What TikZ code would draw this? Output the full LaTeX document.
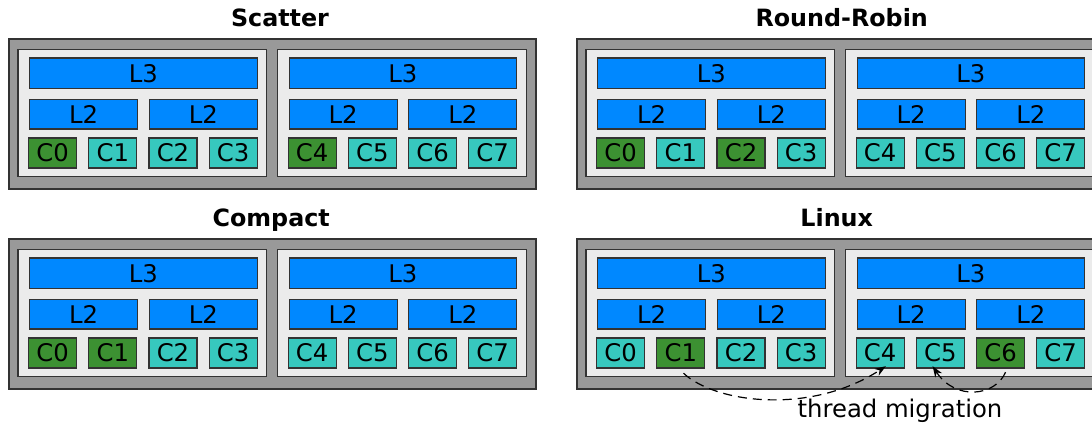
\documentclass[tikz,border=0pt]{standalone}
\usepackage{fontspec}
\setmainfont{DejaVu Sans}
\usetikzlibrary{calc,arrows.meta}
\definecolor{outerg}{RGB}{153,153,153}
\definecolor{innerg}{RGB}{235,235,235}
\definecolor{cblue}{RGB}{0,136,255}
\definecolor{cteal}{RGB}{55,200,190}
\definecolor{cgreen}{RGB}{60,145,50}
\definecolor{edge}{RGB}{51,51,51}
\tikzset{
 box/.style={draw=edge, line width=1.2pt, inner sep=0pt, anchor=north west, font=\fontsize{24.3}{28}\selectfont},
 outerbox/.style={box, fill=outerg, line width=1.6pt},
 socket/.style={box, fill=innerg},
 cache/.style={box, fill=cblue},
 corebox/.style={box, minimum width=48pt, minimum height=30pt},
 title/.style={font=\bfseries\fontsize{23.8}{28}\selectfont, anchor=base, inner sep=0pt},
 lbl/.style={font=\fontsize{24.3}{28}\selectfont, anchor=base, inner sep=0pt},
 mig/.style={dash pattern=on 9pt off 6pt, line width=1.2pt, -{Stealth[length=11pt,width=8pt]}},
}
\newcommand\cpupanel[4]{%
 \begin{scope}[shift={(#1,#2)}]
  \node[outerbox, minimum width=527pt, minimum height=150pt] (#3-out) at (8,38) {};
  \foreach \s/\sx in {0/0,1/259.5} {
    \node[socket, minimum width=248.7pt, minimum height=127pt] (#3-S\s) at (17.3+\sx,48.7) {};
    \node[cache, minimum width=227.7pt, minimum height=30.7pt] (#3-L3-\s) at (29+\sx,57.3) {L3};
    \node[cache, minimum width=108pt, minimum height=29.6pt] (#3-L2a-\s) at (29+\sx,98.7) {L2};
    \node[cache, minimum width=108pt, minimum height=29.6pt] (#3-L2b-\s) at (148.7+\sx,98.7) {L2};
  }
  \foreach \i in {0,...,7} {
    \pgfmathsetmacro\cx{28+60.2*mod(\i,4)+259.5*floor(\i/4)}
    \gdef\cfill{cteal}
    \foreach \g in {#4} {\ifnum\g=\i\relax\gdef\cfill{cgreen}\fi}
    \node[corebox, fill=\cfill] (#3-C\i) at (\cx,137.3) {C\i};
  }
 \end{scope}}
\begin{document}
\begin{tikzpicture}[x=1pt,y=-1pt]
\useasboundingbox (0,0) rectangle (1092,423);
\fill[white] (0,0) rectangle (1092,423);
\cpupanel{0}{0}{SC}{0,4}
\cpupanel{568}{0}{RR}{0,2}
\cpupanel{0}{200}{CP}{0,1}
\cpupanel{568}{200}{LX}{1,6}
\node[title] (t-sc) at (280,27) {Scatter};
\node[title] (t-rr) at (841.7,26) {Round-Robin};
\node[title] (t-cp) at (271.2,226.5) {Compact};
\node[title] (t-lx) at (836.7,226) {Linux};
\node[lbl] (tm) at (900,417) {thread migration};
\draw[mig] ($(LX-C1.south)+(2.7,4.7)$) .. controls ($(LX-C1.south)+(34.7,34.7)$) and ($(LX-C4.south)+(-69.3,46.7)$) .. ($(LX-C4.south)+(5.7,-2.3)$);
\draw[mig] ($(LX-C6.south)+(5,3.7)$) .. controls ($(LX-C6.south)+(-5,27.7)$) and ($(LX-C5.south)+(15.3,32.7)$) .. ($(LX-C5.south)+(-7.7,-2.3)$);
\end{tikzpicture}
\end{document}
